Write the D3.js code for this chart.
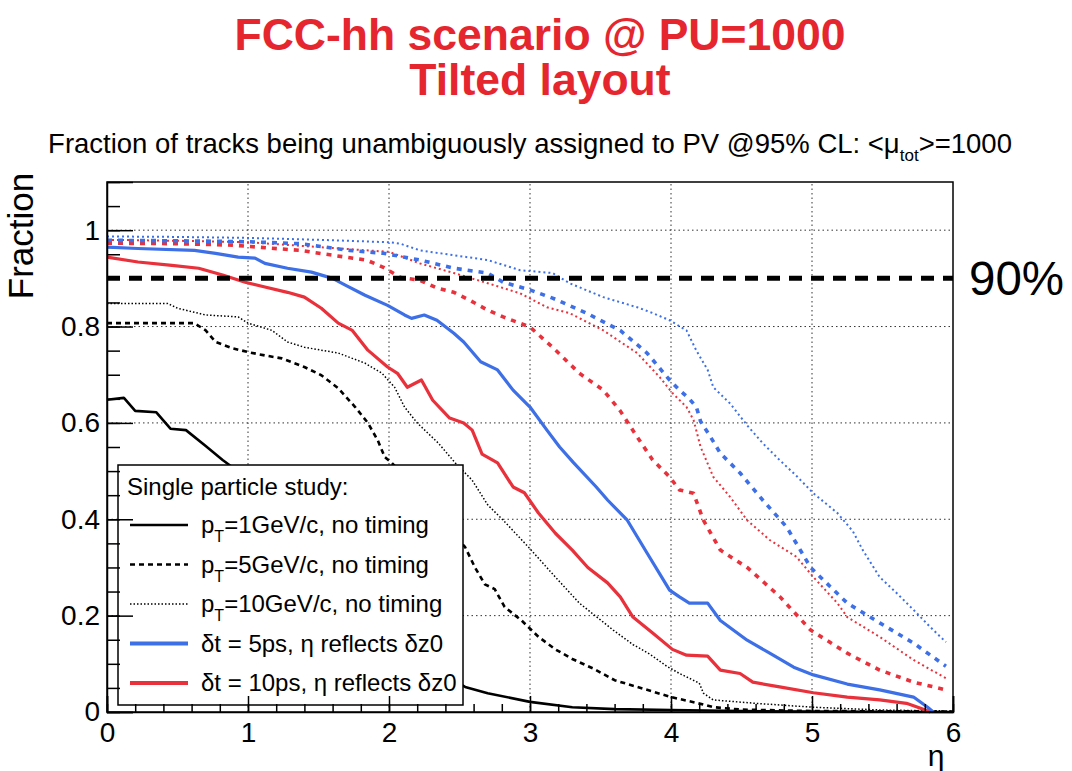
<!DOCTYPE html>
<html>
<head>
<meta charset="utf-8">
<script src="https://cdn.jsdelivr.net/npm/d3@7"></script>
<style>
  html, body { margin: 0; padding: 0; background: #fff; }
  svg { display: block; }
  text { font-family: "Liberation Sans", Arial, Helvetica, sans-serif; }
</style>
</head>
<body>
<svg id="chart" width="1072" height="771"></svg>
<script>
// ---------------- data (eta, fraction) ----------------
const pt1NoTiming = [[0,0.648],[0.12,0.652],[0.2,0.625],[0.35,0.622],[0.45,0.588],[0.56,0.585],[0.7,0.552],[0.82,0.523],[0.88,0.51],[1.0,0.47],[1.3,0.38],[1.6,0.28],[1.9,0.19],[2.2,0.11],[2.54,0.052],[2.7,0.039],[3.0,0.021],[3.3,0.01],[3.6,0.006],[4.0,0.004],[4.5,0.002],[5.0,0.001],[6.0,0.0]];
const pt5NoTiming = [[0,0.807],[0.62,0.807],[0.70,0.792],[0.77,0.768],[0.89,0.755],[1.0,0.747],[1.12,0.74],[1.24,0.734],[1.4,0.716],[1.52,0.699],[1.64,0.672],[1.76,0.633],[1.85,0.6],[1.92,0.564],[1.97,0.529],[2.02,0.517],[2.2,0.46],[2.4,0.39],[2.54,0.342],[2.61,0.30],[2.68,0.265],[2.75,0.255],[2.82,0.218],[2.94,0.19],[3.06,0.156],[3.18,0.13],[3.30,0.11],[3.45,0.09],[3.6,0.066],[3.83,0.046],[4.0,0.031],[4.18,0.019],[4.3,0.01],[4.5,0.005],[5.0,0.002],[6.0,0.001]];
const pt10NoTiming = [[0,0.848],[0.43,0.848],[0.5,0.838],[0.7,0.824],[0.93,0.82],[1.0,0.807],[1.17,0.792],[1.28,0.768],[1.4,0.757],[1.64,0.745],[1.83,0.724],[1.95,0.703],[2.04,0.674],[2.11,0.633],[2.2,0.6],[2.35,0.558],[2.47,0.517],[2.59,0.481],[2.70,0.43],[2.82,0.395],[2.99,0.342],[3.18,0.28],[3.35,0.226],[3.59,0.17],[3.73,0.14],[3.85,0.12],[3.97,0.095],[4.06,0.08],[4.2,0.06],[4.23,0.039],[4.3,0.025],[4.6,0.018],[5.0,0.01],[5.5,0.004],[6.0,0.002]];
const dt5Pt1 = [[0,0.965],[0.22,0.962],[0.62,0.958],[0.77,0.952],[0.93,0.944],[1.05,0.942],[1.12,0.931],[1.28,0.921],[1.45,0.913],[1.6,0.90],[1.69,0.886],[1.83,0.865],[1.99,0.844],[2.11,0.824],[2.16,0.817],[2.25,0.824],[2.34,0.813],[2.46,0.786],[2.53,0.768],[2.65,0.727],[2.77,0.71],[2.88,0.668],[3.0,0.633],[3.12,0.585],[3.21,0.55],[3.31,0.517],[3.47,0.467],[3.55,0.44],[3.69,0.398],[3.83,0.33],[3.99,0.253],[4.06,0.239],[4.13,0.226],[4.26,0.226],[4.35,0.19],[4.54,0.149],[4.70,0.122],[4.87,0.093],[5.01,0.077],[5.25,0.058],[5.48,0.046],[5.72,0.031],[5.82,0.01],[5.86,0.0]];
const dt10Pt1 = [[0,0.944],[0.22,0.934],[0.46,0.927],[0.65,0.921],[0.82,0.907],[0.98,0.892],[1.12,0.882],[1.28,0.871],[1.40,0.861],[1.52,0.838],[1.64,0.807],[1.74,0.792],[1.85,0.751],[1.99,0.716],[2.06,0.703],[2.13,0.674],[2.23,0.689],[2.31,0.647],[2.43,0.61],[2.53,0.6],[2.59,0.585],[2.66,0.535],[2.77,0.517],[2.88,0.467],[2.96,0.455],[3.06,0.413],[3.18,0.371],[3.30,0.336],[3.41,0.30],[3.55,0.268],[3.64,0.239],[3.73,0.197],[3.87,0.164],[4.01,0.13],[4.11,0.118],[4.26,0.116],[4.35,0.087],[4.49,0.08],[4.58,0.062],[4.77,0.052],[5.01,0.04],[5.25,0.031],[5.48,0.025],[5.67,0.018],[5.77,0.008],[5.84,0.0]];
const dt5Pt5 = [[0,0.979],[0.5,0.978],[1.0,0.976],[1.37,0.972],[1.72,0.958],[1.96,0.952],[2.22,0.938],[2.46,0.921],[2.70,0.911],[2.81,0.892],[3.0,0.876],[3.16,0.859],[3.40,0.828],[3.64,0.792],[3.83,0.745],[3.99,0.689],[4.06,0.668],[4.13,0.65],[4.18,0.633],[4.21,0.603],[4.28,0.571],[4.35,0.537],[4.49,0.496],[4.65,0.44],[4.82,0.384],[4.99,0.30],[5.13,0.26],[5.25,0.226],[5.48,0.185],[5.72,0.143],[5.95,0.095]];
const dt10Pt5 = [[0,0.973],[0.5,0.972],[0.89,0.969],[1.37,0.958],[1.60,0.948],[1.84,0.938],[1.96,0.923],[2.08,0.902],[2.22,0.896],[2.34,0.88],[2.46,0.871],[2.57,0.855],[2.70,0.834],[2.81,0.82],[3.0,0.799],[3.16,0.757],[3.35,0.703],[3.52,0.668],[3.64,0.625],[3.76,0.571],[3.87,0.523],[3.99,0.488],[4.06,0.461],[4.16,0.454],[4.23,0.398],[4.35,0.336],[4.54,0.30],[4.77,0.24],[4.99,0.17],[5.25,0.122],[5.48,0.087],[5.72,0.062],[5.95,0.046]];
const dt5Pt10 = [[0,0.987],[0.5,0.986],[1.0,0.984],[1.5,0.98],[2.0,0.975],[2.08,0.972],[2.22,0.958],[2.46,0.948],[2.70,0.938],[2.93,0.917],[3.16,0.911],[3.28,0.89],[3.52,0.861],[3.76,0.84],[3.87,0.828],[3.99,0.813],[4.11,0.792],[4.18,0.75],[4.26,0.71],[4.30,0.674],[4.42,0.64],[4.54,0.595],[4.65,0.558],[4.77,0.523],[4.89,0.49],[5.01,0.454],[5.18,0.413],[5.29,0.375],[5.36,0.336],[5.48,0.28],[5.60,0.247],[5.72,0.212],[5.84,0.176],[5.95,0.145]];
const dt10Pt10 = [[0,0.98],[0.5,0.978],[1.0,0.975],[1.5,0.965],[2.0,0.955],[2.22,0.931],[2.46,0.911],[2.70,0.89],[2.93,0.869],[3.12,0.84],[3.28,0.828],[3.52,0.792],[3.76,0.745],[3.92,0.695],[4.01,0.662],[4.11,0.633],[4.16,0.606],[4.21,0.55],[4.30,0.488],[4.42,0.446],[4.54,0.398],[4.70,0.357],[4.89,0.322],[5.01,0.28],[5.18,0.226],[5.25,0.197],[5.48,0.156],[5.72,0.108],[5.95,0.07]];

const xMajorTicks = [0,1,2,3,4,5,6];
const yMajorTicks = [0,0.2,0.4,0.6,0.8,1];
const referenceLevel = 0.9;
const legendTitle = "Single particle study:";

// ---------------- styles ----------------
const BLUE = "#3d6fe6", RED = "#e8313b", TITLE_RED = "#e6262e";
const styles = {
  solidBlack:  {color:"#000", width:2.6, dash:null},
  dashBlack:   {color:"#000", width:2.6, dash:"5,4"},
  dotBlack:    {color:"#000", width:1.5, dash:"1.5,2"},
  solidBlue:   {color:BLUE, width:3.2, dash:null},
  solidRed:    {color:RED, width:3.2, dash:null},
  dashBlue:    {color:BLUE, width:3.6, dash:"5,6"},
  dashRed:     {color:RED, width:3.6, dash:"5,6"},
  dotBlue:     {color:BLUE, width:2, dash:"2,3"},
  dotRed:      {color:RED, width:2, dash:"2,3"}
};
const series = [
  {data: pt1NoTiming, s: styles.solidBlack},
  {data: pt5NoTiming, s: styles.dashBlack},
  {data: pt10NoTiming, s: styles.dotBlack},
  {data: dt10Pt10, s: styles.dotRed},
  {data: dt5Pt10, s: styles.dotBlue},
  {data: dt10Pt5, s: styles.dashRed},
  {data: dt5Pt5, s: styles.dashBlue},
  {data: dt10Pt1, s: styles.solidRed},
  {data: dt5Pt1, s: styles.solidBlue}
];

// ---------------- layout ----------------
const svg = d3.select("#chart");
const X0 = 107, X1 = 953, Y0 = 712, Y1 = 182;
const x = d3.scaleLinear().domain([0,6]).range([X0,X1]);
const y = d3.scaleLinear().domain([0,1.1]).range([Y0,Y1]);

// titles
svg.append("text").attr("x",540).attr("y",50).attr("text-anchor","middle")
  .attr("font-size",44.5).attr("font-weight","bold").attr("fill",TITLE_RED)
  .text("FCC-hh scenario @ PU=1000");
svg.append("text").attr("x",540).attr("y",95).attr("text-anchor","middle")
  .attr("font-size",44.5).attr("font-weight","bold").attr("fill",TITLE_RED)
  .text("Tilted layout");

const sub = svg.append("text").attr("x",530).attr("y",153).attr("text-anchor","middle")
  .attr("font-size",27.5).attr("fill","#000");
sub.append("tspan").text("Fraction of tracks being unambiguously assigned to PV @95% CL: <\u03bc");
sub.append("tspan").attr("font-size",17).attr("dy",8).text("tot");
sub.append("tspan").attr("dy",-8).text(">=1000");

// grid
const grid = svg.append("g").attr("stroke","#333").attr("stroke-width",1).attr("stroke-dasharray","1.5,3");
grid.selectAll("line.gx").data(xMajorTicks.filter(d=>d>0&&d<6)).join("line")
  .attr("x1",d=>x(d)).attr("x2",d=>x(d)).attr("y1",Y0).attr("y2",Y1);
grid.selectAll("line.gy").data(yMajorTicks.filter(d=>d>0)).join("line")
  .attr("class","gy").attr("x1",X0).attr("x2",X1).attr("y1",d=>y(d)).attr("y2",d=>y(d));

// curves
const line = d3.line().x(d=>x(d[0])).y(d=>y(d[1]));
const curves = svg.append("g").attr("fill","none");
series.forEach(sr => {
  curves.append("path").attr("d", line(sr.data))
    .attr("stroke", sr.s.color).attr("stroke-width", sr.s.width)
    .attr("stroke-dasharray", sr.s.dash).attr("stroke-linejoin","round");
});

// 90% reference line
svg.append("line").attr("x1",X0).attr("x2",X1).attr("y1",y(referenceLevel)).attr("y2",y(referenceLevel))
  .attr("stroke","#000").attr("stroke-width",5).attr("stroke-dasharray","13,9");
svg.append("text").attr("x",969).attr("y",y(referenceLevel)+17).attr("font-size",47.5).attr("fill","#000").text("90%");

// legend
const leg = svg.append("g");
leg.append("rect").attr("x",118).attr("y",465).attr("width",345).attr("height",240)
  .attr("fill","#fff").attr("stroke","#000").attr("stroke-width",1.5);
leg.append("text").attr("x",127).attr("y",495).attr("font-size",24).text(legendTitle);
const legItems = [
  {s: styles.solidBlack, pt:"1"},
  {s: styles.dashBlack, pt:"5"},
  {s: styles.dotBlack, pt:"10"},
  {s: styles.solidBlue, dt:"5ps"},
  {s: styles.solidRed, dt:"10ps"}
];
legItems.forEach((it,i) => {
  const cy = 525 + i*39.5;
  leg.append("line").attr("x1",130).attr("x2",188).attr("y1",cy).attr("y2",cy)
    .attr("stroke",it.s.color).attr("stroke-width",it.s.width + (it.dt?0.6:0))
    .attr("stroke-dasharray",it.s.dash);
  const t = leg.append("text").attr("x",201).attr("y",cy+8).attr("font-size",24);
  if (it.pt) {
    t.append("tspan").text("p");
    t.append("tspan").attr("font-size",16).attr("dy",9).text("T");
    t.append("tspan").attr("dy",-9).text("=" + it.pt + "GeV/c, no timing");
  } else {
    t.text("\u03b4t = " + it.dt + ", \u03b7 reflects \u03b4z0");
  }
});

// frame
svg.append("rect").attr("x",X0).attr("y",Y1).attr("width",X1-X0).attr("height",Y0-Y1)
  .attr("fill","none").attr("stroke","#000").attr("stroke-width",1.5);

// axes
const fmt = d => d===0 ? "0" : d3.format("~g")(d);
const yMinor = d3.range(0, 1.1001, 0.05).map(v=>+v.toFixed(2));
const xMinor = d3.range(0, 6.0001, 0.2).map(v=>+v.toFixed(2));
svg.append("g").attr("transform",`translate(${X0},0)`)
  .call(d3.axisLeft(y).tickValues(yMinor).tickSize(-13).tickFormat(""))
  .call(g=>g.select(".domain").remove())
  .call(g=>g.selectAll("line").attr("stroke-width",1.5));
svg.append("g").attr("transform",`translate(${X0},0)`)
  .call(d3.axisLeft(y).tickValues(yMajorTicks).tickSize(-26).tickPadding(7).tickFormat(fmt))
  .call(g=>g.select(".domain").attr("stroke-width",1.5))
  .call(g=>g.selectAll("line").attr("stroke-width",1.5))
  .call(g=>g.selectAll("text").attr("font-size",28).attr("font-family","Liberation Sans, Arial, sans-serif").attr("fill","#000"));
svg.append("g").attr("transform",`translate(0,${Y0})`)
  .call(d3.axisBottom(x).tickValues(xMinor).tickSize(-8).tickFormat(""))
  .call(g=>g.select(".domain").remove())
  .call(g=>g.selectAll("line").attr("stroke-width",1.5));
svg.append("g").attr("transform",`translate(0,${Y0})`)
  .call(d3.axisBottom(x).tickValues(xMajorTicks).tickSize(-16).tickPadding(10).tickFormat(fmt))
  .call(g=>g.select(".domain").attr("stroke-width",1.5))
  .call(g=>g.selectAll("line").attr("stroke-width",1.5))
  .call(g=>g.selectAll("text").attr("font-size",28).attr("font-family","Liberation Sans, Arial, sans-serif").attr("fill","#000"));

// axis titles
svg.append("text").attr("x",936).attr("y",766).attr("text-anchor","middle").attr("font-size",30).text("\u03b7");
svg.append("text").attr("transform","translate(33,236) rotate(-90)").attr("text-anchor","middle")
  .attr("font-size",35).text("Fraction");
</script>
</body>
</html>
